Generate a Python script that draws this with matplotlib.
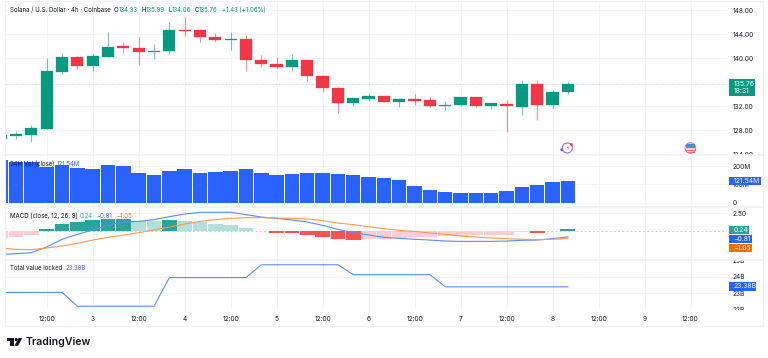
import matplotlib
matplotlib.use("Agg")
from matplotlib import pyplot as plt
from matplotlib.patches import Circle, Polygon, Rectangle
from matplotlib.transforms import Bbox

plt.rcParams['font.family'] = ['Inter', 'DejaVu Sans']

# Candles, 4h, oldest first
opens = [126.58, 127.08, 127.19, 128.24, 137.76, 140.27, 138.65, 140.27, 141.99, 141.71,
         140.99, 141.27, 144.72, 144.72, 143.49, 143.05, 143.16, 139.71, 139.04, 138.54,
         139.65, 136.98, 135.03, 132.47, 133.20, 133.75, 132.75, 133.20, 132.97, 132.08,
         132.14, 133.48, 132.08, 132.42, 131.92, 135.70, 132.25, 134.33]
highs = [127.30, 127.86, 128.80, 139.99, 140.88, 140.38, 140.65, 144.33, 142.71, 143.60,
         142.38, 146.11, 146.94, 144.94, 144.22, 144.33, 143.88, 140.54, 140.27, 140.77,
         139.65, 137.20, 135.15, 133.36, 134.14, 133.75, 133.31, 134.03, 133.48, 132.92,
         133.48, 133.48, 132.59, 133.03, 136.37, 136.37, 134.70, 135.99]
lows = [126.50, 126.46, 125.96, 128.24, 137.37, 138.21, 137.82, 140.27, 140.88, 138.82,
        139.88, 140.77, 143.72, 142.66, 142.77, 141.38, 137.82, 138.54, 138.32, 137.87,
        136.20, 134.42, 130.86, 132.03, 132.86, 132.64, 131.92, 132.20, 131.81, 131.36,
        132.03, 131.92, 131.53, 127.69, 130.47, 129.69, 131.53, 134.06]
closes = [127.19, 127.30, 128.30, 137.82, 140.21, 138.71, 140.38, 141.88, 141.71, 140.99,
          141.27, 144.66, 144.55, 143.55, 143.05, 143.21, 139.65, 139.10, 138.54, 139.65,
          136.98, 135.03, 132.47, 133.36, 133.75, 132.70, 133.14, 132.92, 132.03, 132.20,
          133.48, 132.03, 132.47, 131.97, 135.70, 132.25, 134.31, 135.76]

# 24H volume, millions
volume = [234.9, 223.9, 222.0, 198.2, 205.5, 190.8, 185.3, 205.5, 201.8, 161.5,
          150.5, 172.5, 183.5, 161.5, 167.0, 172.5, 183.5, 161.5, 154.1, 157.8,
          161.5, 161.5, 159.6, 152.3, 143.1, 135.8, 122.9, 91.7, 67.9, 58.7,
          53.2, 51.4, 51.4, 66.0, 84.4, 97.2, 111.9, 121.54]

# MACD
hist = [-1.03, -0.80, -0.56, 0.33, 0.99, 1.27, 1.50, 1.66, 1.68, 1.48,
        1.44, 1.55, 1.46, 1.27, 1.03, 0.85, 0.42, 0.05, -0.23, -0.33,
        -0.61, -0.89, -1.17, -1.27, -1.17, -1.10, -0.95, -0.85, -0.78, -0.72,
        -0.66, -0.60, -0.55, -0.50, -0.15, -0.22, 0.05, 0.24]
macd = [-3.29, -3.19, -3.05, -2.25, -1.17, -0.47, 0.14, 0.80, 1.27, 1.36,
        1.60, 2.02, 2.39, 2.63, 2.63, 2.63, 2.30, 1.97, 1.78, 1.55,
        1.27, 0.80, 0.23, -0.23, -0.56, -0.89, -1.03, -1.17, -1.27, -1.41,
        -1.46, -1.46, -1.46, -1.41, -1.31, -1.27, -1.08, -0.81]
signal = [-2.39, -2.58, -2.63, -2.39, -2.11, -1.74, -1.27, -0.89, -0.56, -0.23,
          0.14, 0.56, 0.99, 1.36, 1.60, 1.78, 1.88, 1.88, 1.83, 1.78,
          1.69, 1.46, 1.13, 0.89, 0.61, 0.33, 0.09, -0.05, -0.28, -0.47,
          -0.70, -0.85, -0.99, -1.08, -1.17, -1.22, -1.17, -1.05]

# Total value locked, billions
tvl = [23.04, 23.04, 23.04, 23.04, 23.04, 22.20, 22.20, 22.20, 22.20, 22.20,
       22.20, 23.94, 23.94, 23.94, 23.94, 23.94, 23.94, 24.72, 24.72, 24.72,
       24.72, 24.72, 24.72, 24.12, 24.12, 24.12, 24.12, 24.12, 24.12, 23.38,
       23.38, 23.38, 23.38, 23.38, 23.38, 23.38, 23.38, 23.38]

time_ticks = [3, 6, 9, 12, 15, 18, 21, 24, 27, 30, 33, 36, 39, 42, 45]
time_labels = ["12:00", "3", "12:00", "4", "12:00", "5", "12:00", "6", "12:00", "7",
               "12:00", "8", "12:00", "9", "12:00"]
price_ticks = [124, 128, 132, 140, 144, 148]
volume_ticks = [0, 100, 200]
macd_ticks = [2.5]
tvl_ticks = [22, 23, 24, 25]

GREEN = "#089981"
RED = "#F23645"
BLUE = "#2962FF"
LINE_BLUE = "#5B8CFF"
ORANGE = "#FF6D00"
GRID = "#F3F4F6"
BORDER = "#F0F2F5"
TEXT = "#131722"
W, H = 768, 358


def make_pane(top, bottom, ylim, yticks, yticklabels):
    ax = fig.add_axes([5 / W, 1 - bottom / H, 722 / W, (bottom - top) / H])
    ax.set_xlim(0.28, 47.38)
    ax.set_ylim(*ylim)
    ax.set_xticks(time_ticks)
    ax.set_yticks(yticks)
    ax.set_yticklabels(yticklabels)
    ax.yaxis.tick_right()
    ax.tick_params(axis='both', length=0, labelsize=4.7, labelcolor=TEXT, pad=4.3)
    ax.tick_params(axis='x', labelbottom=False)
    ax.grid(True, color=GRID, linewidth=0.7)
    ax.set_axisbelow(True)
    for s in ax.spines.values():
        s.set_visible(False)
    # labels get cut at the edge of their pane, like in the app
    pane_box = Bbox([[0, H - bottom], [W, H - top]])
    for lbl in ax.get_yticklabels():
        lbl.set_clip_box(pane_box)
        lbl.set_clip_on(True)
    return ax


fig = plt.figure(figsize=(W / 100, H / 100), dpi=100, facecolor="white")
xs = list(range(len(closes)))

# Price pane
ax_price = make_pane(1, 155, (123.84, 149.55), price_ticks, [f"{p:.2f}" for p in price_ticks])
ax_price.axhline(closes[-1], color=GREEN, alpha=0.3, linewidth=0.6, linestyle=(0, (2, 2)))
for x, o, h, l, c in zip(xs, opens, highs, lows, closes):
    col = GREEN if c >= o else RED
    ax_price.vlines(x, l, h, color=col, alpha=0.55, linewidth=0.8, zorder=2)
    ax_price.bar(x, abs(c - o), bottom=min(o, c), width=0.8, color=col, zorder=3,
                 edgecolor=col, linewidth=0.2)

# Volume pane
ax_vol = make_pane(155.5, 207, (-23.6, 259.3), volume_ticks, ["0", "100M", "200M"])
ax_vol.bar(xs, volume, width=0.94, color=BLUE, zorder=3)

# MACD pane
ax_macd = make_pane(207.5, 259.5, (-4.01, 3.31), macd_ticks, ["2.50"])
ax_macd.axhline(0, color="#C8CBD2", linewidth=0.6, linestyle=(0, (2.5, 2.5)), zorder=1)
bar_colors = []
for i, v in enumerate(hist):
    prev = hist[i - 1] if i > 0 else v - 1
    if v >= 0:
        bar_colors.append("#26A69A" if v >= prev else "#B2DFDB")
    else:
        bar_colors.append("#FF5252" if v < prev else "#FFCDD2")
ax_macd.bar(xs, hist, width=0.97, color=bar_colors, zorder=2)
ax_macd.plot(xs, macd, color=LINE_BLUE, linewidth=0.8, zorder=4)
ax_macd.plot(xs, signal, color="#F79A55", linewidth=0.8, zorder=4)

# TVL pane
ax_tvl = make_pane(260, 310, (21.97, 25.01), tvl_ticks, ["22B", "23B", "24B", "25B"])
ax_tvl.plot(xs, tvl, color=LINE_BLUE, linewidth=0.8, zorder=3)
ax_tvl.tick_params(axis='x', labelbottom=True, pad=4.5)
ax_tvl.set_xticklabels(time_labels)

# Overlay in pixels for the labels, boxes, borders and logo
ov = fig.add_axes([0, 0, 1, 1], zorder=10)
ov.set_xlim(0, W)
ov.set_ylim(H, 0)
ov.axis('off')

# borders
ov.plot([5, 5, 763, 763], [1, 326, 326, 1], color=BORDER, linewidth=0.8)
ov.plot([5, 763], [1, 1], color=BORDER, linewidth=0.8)
for y in [155.3, 207.3, 259.5]:
    ov.plot([5, 763], [y, y], color=BORDER, linewidth=1.2)


def tag(x0, x1, y0, y1, color, text, size=4.9):
    ov.add_patch(Rectangle((x0, y0), x1 - x0, y1 - y0, color=color, linewidth=0))
    ov.text(x0 + 4, (y0 + y1) / 2, text, color="white", fontsize=size, va='center', ha='left')


def legend(x, y, text, color=TEXT):
    ov.text(x, y, text, color=color, fontsize=4.4, va='center', ha='left')


# last value tags on the axis
tag(729.3, 755, 79.3, 95.7, GREEN, f"{closes[-1]:.2f}\n18:31")
tag(729.3, 761, 176.7, 185, BLUE, f"{volume[-1]:.2f}M")
tag(729.3, 749, 225.7, 233.7, "#26A69A", f"{hist[-1]:.2f}")
tag(729.3, 752, 235, 243, BLUE, "\u22120.81")
tag(729.3, 752, 244, 252, ORANGE, "\u22121.05")
tag(729.3, 756, 282.3, 290.7, BLUE, "23.38B")

# header legends
legend(10, 10, "Solana / U.S. Dollar \u00b7 4h \u00b7 Coinbase")
for lx, nx, letter, val in [(114, 119, "O", "134.33"), (141.7, 145.5, "H", "135.99"),
                            (168.7, 172, "L", "134.06"), (195, 199, "C", "135.76")]:
    legend(lx, 10, letter)
    legend(nx, 10, val, GREEN)
legend(221.7, 10, "+1.43 (+1.06%)", GREEN)

legend(10, 163.7, "24H Vol (close)")
legend(56.3, 163.7, "121.54M", BLUE)
legend(10, 215.7, "MACD (close, 12, 26, 9)")
legend(80, 215.7, "0.24", "#26A69A")
legend(96.3, 215.7, "\u22120.81", BLUE)
legend(116, 215.7, "\u22121.05", ORANGE)
legend(10, 267.7, "Total value locked")
legend(65.3, 267.7, "23.38B", BLUE)

# event icons
ov.add_patch(Circle((567.3, 148), 5, fill=False, edgecolor="#A85FD8", linewidth=0.8))
ov.text(567.3, 148, "\u26a1", fontsize=4, color="#9C27D0", ha='center', va='center', family='DejaVu Sans')
ov.add_patch(Circle((561.7, 149.7), 1.5, color="#7B5CF0", linewidth=0))
ov.add_patch(Circle((571.5, 144.5), 1.3, color="#F0283C", linewidth=0))
ov.add_patch(Circle((690.3, 148), 5.3, facecolor="#FBD5D8", edgecolor="#EF6A75", linewidth=0.7))
ov.add_patch(Rectangle((686, 144), 8.5, 4, color="#4A8BEA", linewidth=0))
ov.plot([686, 694.5], [149.5, 149.5], color="#EF6A75", linewidth=0.7)
ov.plot([687, 693.5], [151.5, 151.5], color="#EF6A75", linewidth=0.7)

# logo
ov.add_patch(Polygon([(6.5, 338), (13.6, 338), (13.6, 345.8), (10, 345.8), (10, 341.2), (6.5, 341.2)], color="#131722", linewidth=0))
ov.add_patch(Circle((16.2, 339.6), 1.6, color="#131722", linewidth=0))
ov.add_patch(Polygon([(18.7, 338), (22.3, 338), (18, 345.8), (14.4, 345.8)], color="#131722", linewidth=0))
ov.text(25.8, 342, "TradingView", color="#131722", fontsize=7.6, fontweight='semibold', va='center', ha='left')

fig.savefig("out.png", dpi=100, facecolor="white")
